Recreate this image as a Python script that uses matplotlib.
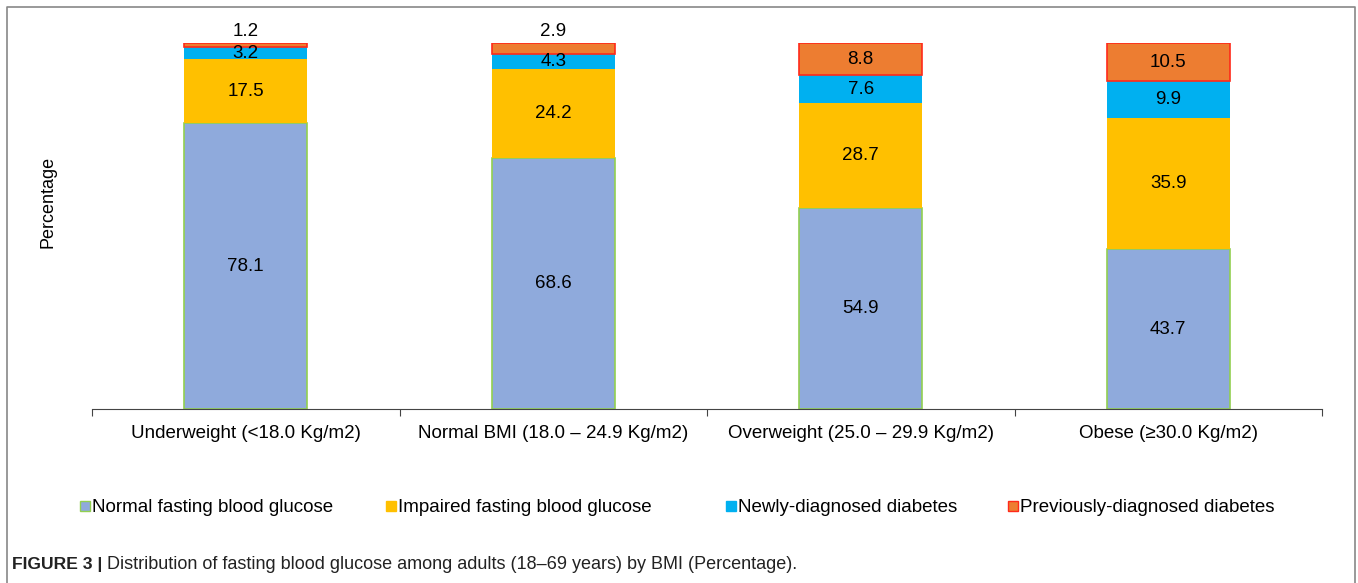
import numpy as np
import matplotlib.pyplot as plt
from matplotlib.patches import Rectangle
from matplotlib.lines import Line2D

plt.rcParams['font.family'] = ['Liberation Sans', 'DejaVu Sans']

categorias = ["Underweight (<18.0 Kg/m2)", "Normal BMI (18.0 \u2013 24.9 Kg/m2)",
              "Overweight (25.0 \u2013 29.9 Kg/m2)", "Obese (\u226530.0 Kg/m2)"]
normal = [78.1, 68.6, 54.9, 43.7]
impaired = [17.5, 24.2, 28.7, 35.9]
newly = [3.2, 4.3, 7.6, 9.9]
previously = [1.2, 2.9, 8.8, 10.5]

series = [("Normal fasting blood glucose", normal, "#8FAADC", "#92D050"),
          ("Impaired fasting blood glucose", impaired, "#FFC000", "none"),
          ("Newly-diagnosed diabetes", newly, "#00B0F0", "none"),
          ("Previously-diagnosed diabetes", previously, "#ED7D31", "#FF2A1A")]

fig = plt.figure(figsize=(13.58, 5.83), dpi=100)
ax = fig.add_axes([92/1358, 1-409/583, (1322-92)/1358, (409-43)/583])

x = np.arange(len(categorias))
base = np.zeros(len(categorias))
for nombre, vals, color, borde in series:
    vals = np.array(vals)
    ax.bar(x, vals, 0.4, bottom=base, color=color, edgecolor=borde, linewidth=1.2, label=nombre)
    for i, v in enumerate(vals):
        if v < 3:
            ax.annotate(f"{v:.1f}", (x[i], base[i] + v), xytext=(0, 2), textcoords="offset points",
                        ha="center", va="bottom", fontsize=13.5)
        else:
            ax.text(x[i], base[i] + v/2, f"{v:.1f}", ha="center", va="center", fontsize=13.5)
    base = base + vals

ax.set_xlim(-0.5, len(categorias) - 0.5)
ax.set_ylim(0, 100)
ax.set_xticks(np.arange(-0.5, len(categorias)), [""] * (len(categorias) + 1))
ax.tick_params(axis="x", length=5, color="#444444")
for i, c in enumerate(categorias):
    ax.text(x[i], -4.3, c, ha="center", va="top", fontsize=13.5)
ax.set_yticks([])
for s in ["top", "right", "left"]:
    ax.spines[s].set_visible(False)
ax.spines["bottom"].set_color("#444444")
fig.text(48/1358, 1-202/583, "Percentage", rotation=90, ha="center", va="center", fontsize=13)

# leyenda
posiciones = [80, 386, 726, 1008]
for (nombre, vals, color, borde), px in zip(series, posiciones):
    ec = borde if borde != "none" else color
    fig.patches.append(Rectangle((px/1358, 1-511/583), 10/1358, 10/583, transform=fig.transFigure,
                                 facecolor=color, edgecolor=ec, linewidth=1))
    fig.text((px+12)/1358, 1-507/583, nombre, ha="left", va="center", fontsize=13.5)

# marco
fig.lines.append(Line2D([7/1358, 7/1358, 1355/1358, 1355/1358], [0, 1-7/583, 1-7/583, 0],
                        transform=fig.transFigure, color="#888888", linewidth=1.2))

fig.text(12/1358, 1-569/583, "FIGURE 3 |", fontsize=12.6, fontweight="bold", color="#222222",
         ha="left", va="baseline")
fig.text(107/1358, 1-569/583, "Distribution of fasting blood glucose among adults (18\u201369 years) by BMI (Percentage).",
         fontsize=13, color="#222222", ha="left", va="baseline")

fig.savefig("out.png", dpi=100)
